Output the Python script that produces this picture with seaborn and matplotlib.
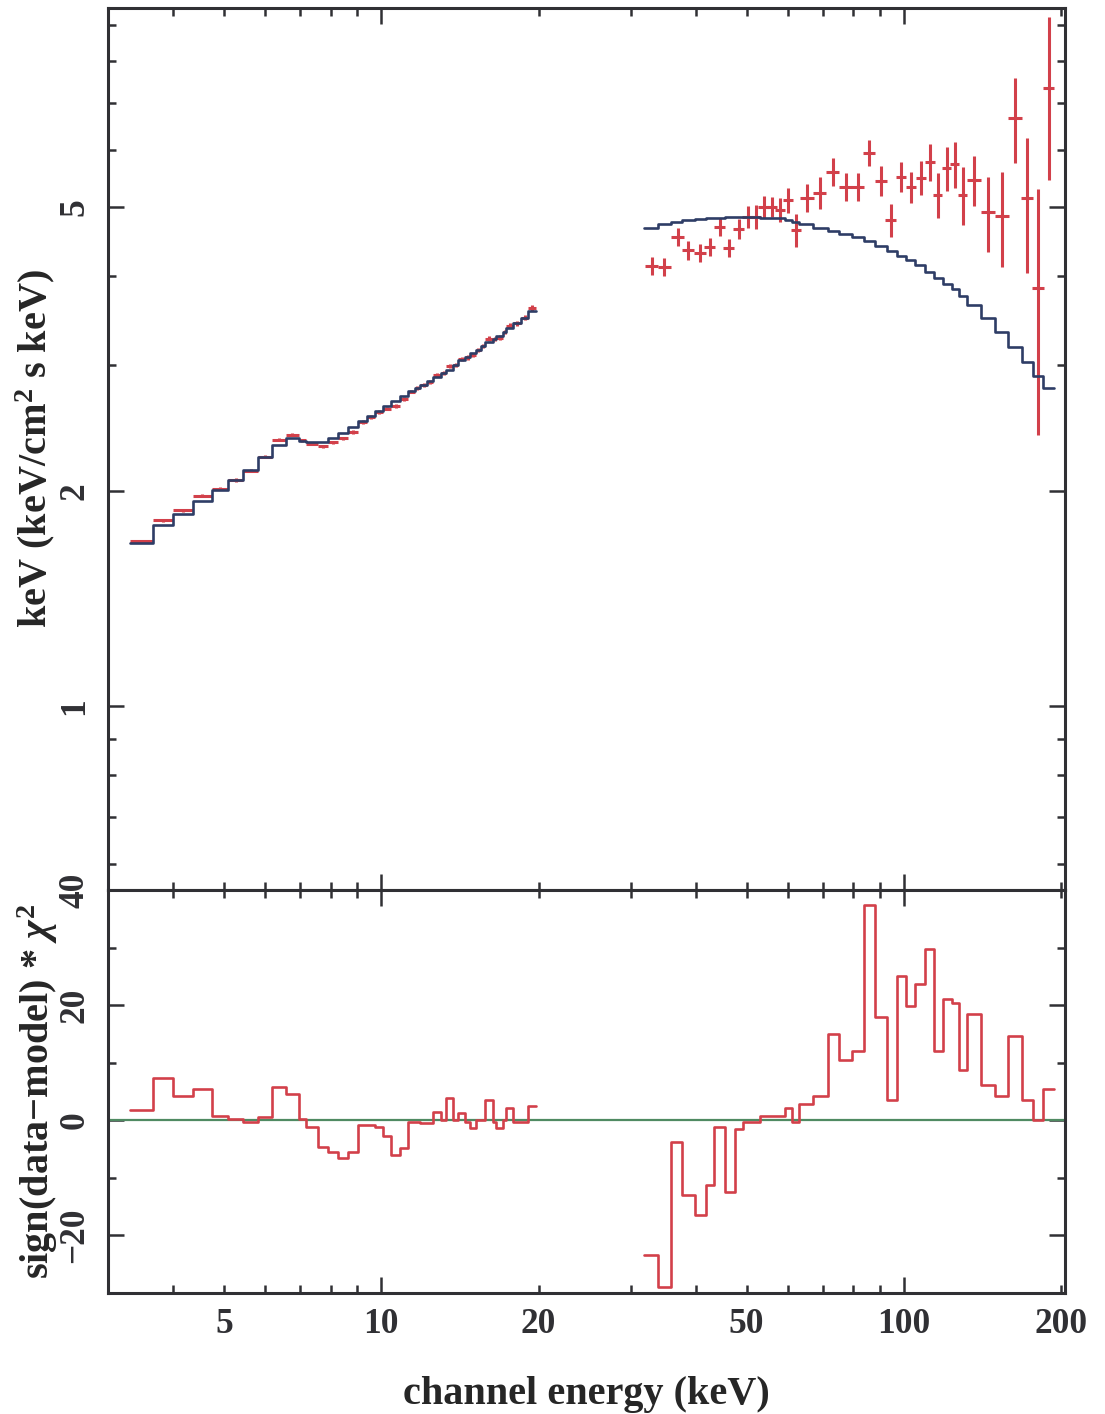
import numpy as np
import pandas as pd
import seaborn as sns
import matplotlib
matplotlib.use("Agg")
import matplotlib.pyplot as plt
from matplotlib.ticker import FixedLocator, FixedFormatter, NullFormatter

# ---- low energy band (3.3 - 20 keV) ----
le_edges = [3.30, 3.66, 4.00, 4.36, 4.74, 5.09, 5.45, 5.81, 6.19, 6.57, 6.95,
            7.18, 7.57, 7.92, 8.27, 8.65, 9.04, 9.40, 9.74, 10.09, 10.45, 10.87,
            11.27, 11.58, 11.88, 12.23, 12.58, 13.03, 13.32, 13.74, 14.04, 14.48,
            14.80, 15.20, 15.50, 15.82, 16.39, 16.61, 17.13, 17.36, 17.90, 18.50,
            19.12, 19.80]
le_model = [1.69, 1.79, 1.86, 1.94, 2.01, 2.07, 2.14, 2.23, 2.32, 2.37, 2.35,
            2.34, 2.34, 2.37, 2.41, 2.46, 2.51, 2.55, 2.59, 2.63, 2.67, 2.72,
            2.76, 2.79, 2.82, 2.85, 2.89, 2.93, 2.96, 3.00, 3.05, 3.08, 3.12,
            3.15, 3.19, 3.23, 3.27, 3.30, 3.34, 3.38, 3.44, 3.50, 3.57]
le_data = [1.70, 1.82, 1.88, 1.97, 2.015, 2.072, 2.137, 2.235, 2.36, 2.40, 2.355,
           2.33, 2.31, 2.34, 2.37, 2.42, 2.50, 2.54, 2.58, 2.61, 2.63, 2.69,
           2.757, 2.787, 2.815, 2.845, 2.905, 2.93, 2.995, 3.00, 3.065, 3.077, 3.10,
           3.15, 3.19, 3.27, 3.265, 3.28, 3.34, 3.41, 3.436, 3.497, 3.61]
le_err = [0.010, 0.010, 0.010, 0.011, 0.011, 0.011, 0.012, 0.012, 0.012, 0.013, 0.013,
          0.013, 0.013, 0.013, 0.014, 0.014, 0.014, 0.015, 0.015, 0.015, 0.016, 0.016,
          0.017, 0.017, 0.017, 0.018, 0.018, 0.019, 0.019, 0.020, 0.020, 0.021, 0.021,
          0.022, 0.022, 0.023, 0.024, 0.025, 0.026, 0.027, 0.028, 0.030, 0.032]
le_resid = [1.7, 7.3, 4.2, 5.4, 0.7, 0.2, -0.3, 0.5, 5.8, 4.6, 0.3,
            -1.2, -4.6, -5.5, -6.6, -5.5, -0.9, -0.9, -1.2, -2.8, -6.1, -4.9,
            -0.3, -0.3, -0.5, -0.5, 1.4, 0.0, 3.8, 0.0, 1.3, -0.3, -1.4,
            0.0, 0.0, 3.5, -0.3, -1.4, 0.0, 2.1, -0.3, -0.3, 2.4]

# ---- high energy band (32 - 195 keV) ----
he_edges = [31.8, 33.9, 35.9, 37.7, 39.8, 41.8, 43.4, 45.4, 47.5, 49.2, 53.0,
            59.2, 61.0, 62.9, 66.9, 71.5, 75.1, 79.5, 83.8, 88.0, 92.8, 97.0,
            100.9, 105.0, 109.7, 114.2, 118.8, 123.6, 127.5, 132.0, 140.5, 149.4,
            158.2, 168.3, 176.7, 184.6, 193.9]
he_model = [4.67, 4.73, 4.76, 4.79, 4.81, 4.82, 4.83, 4.84, 4.84, 4.84, 4.82,
            4.79, 4.76, 4.73, 4.67, 4.63, 4.58, 4.54, 4.48, 4.41, 4.34, 4.27,
            4.21, 4.15, 4.06, 3.98, 3.90, 3.84, 3.75, 3.65, 3.50, 3.34, 3.18,
            3.03, 2.90, 2.79]
he_resid = [-23.4, -28.9, -3.8, -13.0, -16.5, -11.3, -1.2, -12.4, -1.6, -0.3, 0.7,
            2.1, -0.3, 2.9, 4.2, 14.9, 10.4, 12.0, 37.4, 18.0, 3.6, 25.1,
            19.9, 23.6, 29.8, 12.1, 21.1, 20.4, 8.7, 18.5, 6.2, 4.2, 14.7,
            3.5, 0.0, 5.5]

he_energy = [32.9, 34.8, 36.9, 38.7, 40.7, 42.5, 44.4, 46.2, 48.3, 50.3, 52.1,
             53.9, 55.9, 57.9, 60.0, 62.1, 65.2, 69.0, 73.1, 77.4, 81.6, 85.7,
             90.4, 94.4, 98.7, 103.1, 107.8, 112.2, 116.2, 120.9, 125.2, 129.7,
             136.2, 144.8, 154.1, 163.2, 172.0, 180.6, 189.6]
he_ewidth = [1.0, 1.0, 1.0, 1.0, 1.1, 1.1, 1.1, 1.1, 1.2, 1.2, 1.2,
             1.2, 1.2, 1.3, 1.3, 1.4, 2.0, 2.1, 2.1, 2.2, 2.2, 2.2,
             2.4, 2.2, 2.3, 2.3, 2.4, 2.3, 2.3, 2.4, 2.4, 2.5,
             4.0, 4.5, 4.7, 4.9, 4.8, 4.6, 4.6]
he_flux = [4.13, 4.12, 4.54, 4.35, 4.31, 4.40, 4.69, 4.38, 4.66, 4.84, 4.84,
           5.00, 5.00, 4.95, 5.11, 4.64, 5.15, 5.23, 5.60, 5.33, 5.33, 5.95,
           5.44, 4.79, 5.51, 5.33, 5.49, 5.78, 5.20, 5.67, 5.74, 5.20,
           5.45, 4.92, 4.86, 6.67, 5.14, 3.85, 7.34]
he_ferr = [0.12, 0.12, 0.13, 0.13, 0.13, 0.13, 0.14, 0.13, 0.15, 0.17, 0.19,
           0.18, 0.16, 0.19, 0.21, 0.25, 0.23, 0.27, 0.25, 0.24, 0.24, 0.25,
           0.26, 0.25, 0.27, 0.26, 0.30, 0.34, 0.37, 0.40, 0.43, 0.49,
           0.44, 0.59, 0.74, 0.91, 1.10, 1.45, 1.88]

x_labeled = [5, 10, 20, 50, 100, 200]

RED = "#d2404a"
NAVY = "#2e3d66"
GREEN = "#4f8a62"
INK = "#303034"

sns.set_theme(style="ticks")
plt.rcParams["font.family"] = ["Liberation Serif", "DejaVu Serif"]
plt.rcParams["font.weight"] = "bold"
plt.rcParams["mathtext.fontset"] = "custom"
plt.rcParams["mathtext.rm"] = "Liberation Serif:bold"
plt.rcParams["mathtext.it"] = "Liberation Serif:bold:italic"
plt.rcParams["mathtext.bf"] = "Liberation Serif:bold"
plt.rcParams["axes.edgecolor"] = INK
plt.rcParams["axes.linewidth"] = 2.2
plt.rcParams["text.color"] = INK
plt.rcParams["xtick.color"] = INK
plt.rcParams["ytick.color"] = INK


def steps(edges, vals):
    # step table: each value repeated at the closing edge
    return pd.DataFrame({"x": edges, "y": list(vals) + [vals[-1]]})


fig = plt.figure(figsize=(11.05, 14.14), dpi=100)
ax1 = fig.add_axes([0.0977, 0.3706, 0.8661, 0.6238])
ax2 = fig.add_axes([0.0977, 0.0856, 0.8661, 0.2850], sharex=ax1)

for ax in (ax1, ax2):
    ax.set_xscale("log")
ax1.set_yscale("log")

# top panel: data crosses and folded model
le_mid = [(a + b) / 2 for a, b in zip(le_edges[:-1], le_edges[1:])]
le_half = [(b - a) / 2 for a, b in zip(le_edges[:-1], le_edges[1:])]
ax1.errorbar(le_mid, le_data, xerr=le_half, yerr=le_err, fmt="none",
             ecolor=RED, elinewidth=2.2, capsize=0, zorder=2)
ax1.errorbar(he_energy, he_flux, xerr=he_ewidth, yerr=he_ferr, fmt="none",
             ecolor=RED, elinewidth=2.2, capsize=0, zorder=2)
for edges, vals in ((le_edges, le_model), (he_edges, he_model)):
    sns.lineplot(data=steps(edges, vals), x="x", y="y", ax=ax1, color=NAVY,
                 lw=1.9, drawstyle="steps-post", estimator=None, zorder=3)

# bottom panel: residuals
ax2.axhline(0, color=GREEN, lw=1.6, zorder=1)
for edges, vals in ((le_edges, le_resid), (he_edges, he_resid)):
    sns.lineplot(data=steps(edges, vals), x="x", y="y", ax=ax2, color=RED,
                 lw=1.9, drawstyle="steps-post", estimator=None, zorder=2)

ax1.set_xlim(3.0, 203.4)
ax1.set_ylim(0.5525, 9.5)
ax2.set_ylim(-30, 40)

# ticks
x_major = [10, 100]
x_minor = [3, 4, 5, 6, 7, 8, 9, 20, 30, 40, 50, 60, 70, 80, 90, 200]
for ax in (ax1, ax2):
    ax.xaxis.set_major_locator(FixedLocator(x_major))
    ax.xaxis.set_minor_locator(FixedLocator(x_minor))
    ax.tick_params(which="both", direction="in", top=True, right=True,
                   width=1.8, labelsize=25.5, pad=11)
    ax.tick_params(which="major", length=11.5)
    ax.tick_params(which="minor", length=5.8)
    ax.tick_params(axis="y", labelrotation=90, pad=12)

ax1.yaxis.set_major_locator(FixedLocator([1, 2, 5]))
ax1.yaxis.set_major_formatter(FixedFormatter(["1", "2", "5"]))
ax1.yaxis.set_minor_locator(FixedLocator([0.6, 0.7, 0.8, 0.9, 3, 4, 6, 7, 8, 9]))
ax1.yaxis.set_minor_formatter(NullFormatter())
ax1.tick_params(axis="x", which="both", labelbottom=False)

ax2.yaxis.set_major_locator(FixedLocator([-20, 0, 20, 40]))
ax2.yaxis.set_major_formatter(FixedFormatter(["\u221220", "0", "20", "40"]))
ax2.yaxis.set_minor_locator(FixedLocator([-10, 10, 30]))
ax2.xaxis.set_major_formatter(FixedFormatter(["10", "100"]))
ax2.xaxis.set_minor_formatter(FixedFormatter(
    [str(v) if v in x_labeled else "" for v in x_minor]))

for lab in ax1.get_yticklabels() + ax2.get_yticklabels():
    lab.set_va("center")

ax1.set_xlabel("")
ax1.set_ylabel(r"keV (keV/cm$^2$ s keV)", fontsize=29, fontweight="bold")
ax2.set_ylabel(r"sign(data$-$model) * $\chi^2$", fontsize=29, fontweight="bold")
ax2.set_xlabel("channel energy (keV)", fontsize=29, fontweight="bold")
ax1.yaxis.set_label_coords(-0.076, 0.5)
ax2.yaxis.set_label_coords(-0.073, 0.5)
ax2.xaxis.set_label_coords(0.5, -0.205)
ax1.yaxis.label.set_va("center")
ax2.yaxis.label.set_va("center")

fig.savefig("out.png", dpi=100, facecolor="white")
